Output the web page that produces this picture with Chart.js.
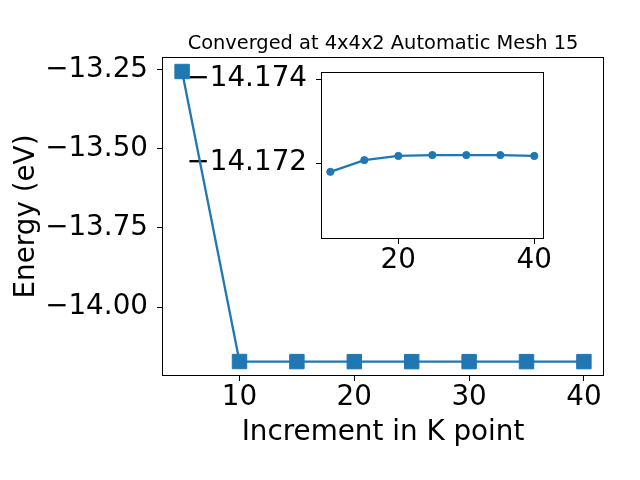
<!DOCTYPE html>
<html><head><meta charset="utf-8">
<script src="https://cdn.jsdelivr.net/npm/chart.js@4"></script>
<style>
html,body{margin:0;padding:0;background:#fff;}
#wrap{position:relative;width:640px;height:480px;background:#fff;}
canvas{position:absolute;left:0;top:0;}
</style></head><body>
<div id="wrap"><canvas id="inset" width="640" height="480"></canvas><canvas id="main" width="640" height="480"></canvas></div>
<script>
// ---- data ----
const kPoints = [5, 10, 15, 20, 25, 30, 35, 40];
const energies = [-13.257, -14.17179, -14.17207, -14.17217, -14.17219, -14.17219, -14.17219, -14.17217];
const insetK = [10, 15, 20, 25, 30, 35, 40];
const insetEnergies = [-14.17179, -14.17207, -14.17217, -14.17219, -14.17219, -14.17219, -14.17217];
const mainXTicks = [10, 20, 30, 40];
const mainYTicks = [-14.00, -13.75, -13.50, -13.25];
const insetXTicks = [20, 40];
const insetYTicks = [-14.174, -14.172];
const titleText = 'Converged at 4x4x2 Automatic Mesh 15';
const xLabel = 'Increment in K point';
const yLabel = 'Energy (eV)';

const BLUE = '#1f77b4';
const FONT = 'DejaVu Sans';
const TICK_SIZE = 27.8;
const minus = s => s.replace('-', '\u2212');

const frame = {
  id: 'frame',
  beforeDraw(c, args, opts) {
    if (!opts.fillArea) return;
    const ctx = c.ctx, a = c.chartArea;
    ctx.save();
    ctx.fillStyle = '#fff';
    ctx.fillRect(a.left, a.top, a.right - a.left, a.bottom - a.top);
    ctx.restore();
  },
  afterDatasetsDraw(c) {
    const ctx = c.ctx, a = c.chartArea;
    ctx.save();
    ctx.strokeStyle = '#000';
    ctx.lineWidth = 1;
    ctx.strokeRect(Math.round(a.left) + 0.5, Math.round(a.top) + 0.5, Math.round(a.right - a.left) - 1, Math.round(a.bottom - a.top) - 1);
    ctx.restore();
  }
};
const topTitle = {
  id: 'topTitle',
  afterDraw(c, args, opts) {
    if (!opts.text) return;
    const ctx = c.ctx, a = c.chartArea;
    ctx.save();
    ctx.fillStyle = '#000';
    ctx.font = '19.4px "' + FONT + '"';
    ctx.textAlign = 'center';
    ctx.textBaseline = 'alphabetic';
    ctx.fillText(opts.text, (a.left + a.right) / 2, 49);
    ctx.restore();
  }
};

function axisCommon() {
  return {
    type: 'linear',
    border: { display: false },
    grid: { drawOnChartArea: false, drawTicks: true, tickLength: 5, color: '#000', tickColor: '#000', lineWidth: 1 },
  };
}

// inset chart (drawn underneath the main canvas, as in the reference)
new Chart(document.getElementById('inset'), {
  type: 'line',
  data: {
    datasets: [{
      data: insetK.map((k, i) => ({ x: k, y: insetEnergies[i] })),
      borderColor: BLUE, backgroundColor: BLUE, borderWidth: 2.3,
      pointStyle: 'circle', pointRadius: 3.6, pointBorderWidth: 1,
      pointBackgroundColor: BLUE, pointBorderColor: BLUE, tension: 0, clip: false
    }]
  },
  options: {
    responsive: false, animation: false, devicePixelRatio: 1,
    layout: { padding: { top: 72, right: 96, left: 0, bottom: 0 } },
    plugins: { legend: { display: false }, tooltip: { enabled: false }, frame: { fillArea: true }, topTitle: { text: '' } },
    scales: {
      x: Object.assign(axisCommon(), {
        min: 8.63, max: 41.43,
        afterBuildTicks: s => { s.ticks = insetXTicks.map(v => ({ value: v })); },
        afterFit: s => { s.height = 241; },
        ticks: { color: '#000', padding: 0, autoSkip: false, maxRotation: 0, font: { family: FONT, size: TICK_SIZE }, callback: v => String(v) }
      }),
      y: Object.assign(axisCommon(), {
        min: -14.17417, max: -14.17019, reverse: true,
        afterBuildTicks: s => { s.ticks = insetYTicks.map(v => ({ value: v })); },
        afterFit: s => { s.width = 321; },
        ticks: { color: '#000', padding: 9, autoSkip: false, font: { family: FONT, size: TICK_SIZE }, callback: v => minus(Number(v).toFixed(3)) }
      })
    }
  },
  plugins: [frame, topTitle]
});

// main chart
new Chart(document.getElementById('main'), {
  type: 'line',
  data: {
    datasets: [{
      data: kPoints.map((k, i) => ({ x: k, y: energies[i] })),
      borderColor: BLUE, backgroundColor: BLUE, borderWidth: 2.3,
      pointStyle: 'rect', pointRadius: 10.2, pointBorderWidth: 1,
      pointBackgroundColor: BLUE, pointBorderColor: BLUE, tension: 0, clip: false
    }]
  },
  options: {
    responsive: false, animation: false, devicePixelRatio: 1,
    layout: { padding: { top: 57, right: 36, left: 0, bottom: 0 } },
    plugins: { legend: { display: false }, tooltip: { enabled: false }, frame: { fillArea: false }, topTitle: { text: titleText } },
    scales: {
      x: Object.assign(axisCommon(), {
        min: 3.25, max: 41.75,
        afterBuildTicks: s => { s.ticks = mainXTicks.map(v => ({ value: v })); },
        afterFit: s => { s.height = 104; },
        ticks: { color: '#000', padding: 0, autoSkip: false, maxRotation: 0, font: { family: FONT, size: TICK_SIZE }, callback: v => String(v) },
        title: { display: true, text: xLabel, color: '#000', font: { family: FONT, size: TICK_SIZE }, padding: { top: 0, bottom: 31 } }
      }),
      y: Object.assign(axisCommon(), {
        min: -14.2175, max: -13.2112,
        afterBuildTicks: s => { s.ticks = mainYTicks.map(v => ({ value: v })); },
        afterFit: s => { s.width = 162; },
        ticks: { color: '#000', padding: 9, autoSkip: false, font: { family: FONT, size: TICK_SIZE }, callback: v => minus(Number(v).toFixed(2)) },
        title: { display: true, text: yLabel, color: '#000', font: { family: FONT, size: TICK_SIZE }, padding: { top: 10, bottom: 0 } }
      })
    }
  },
  plugins: [frame, topTitle]
});
</script>
</body></html>
